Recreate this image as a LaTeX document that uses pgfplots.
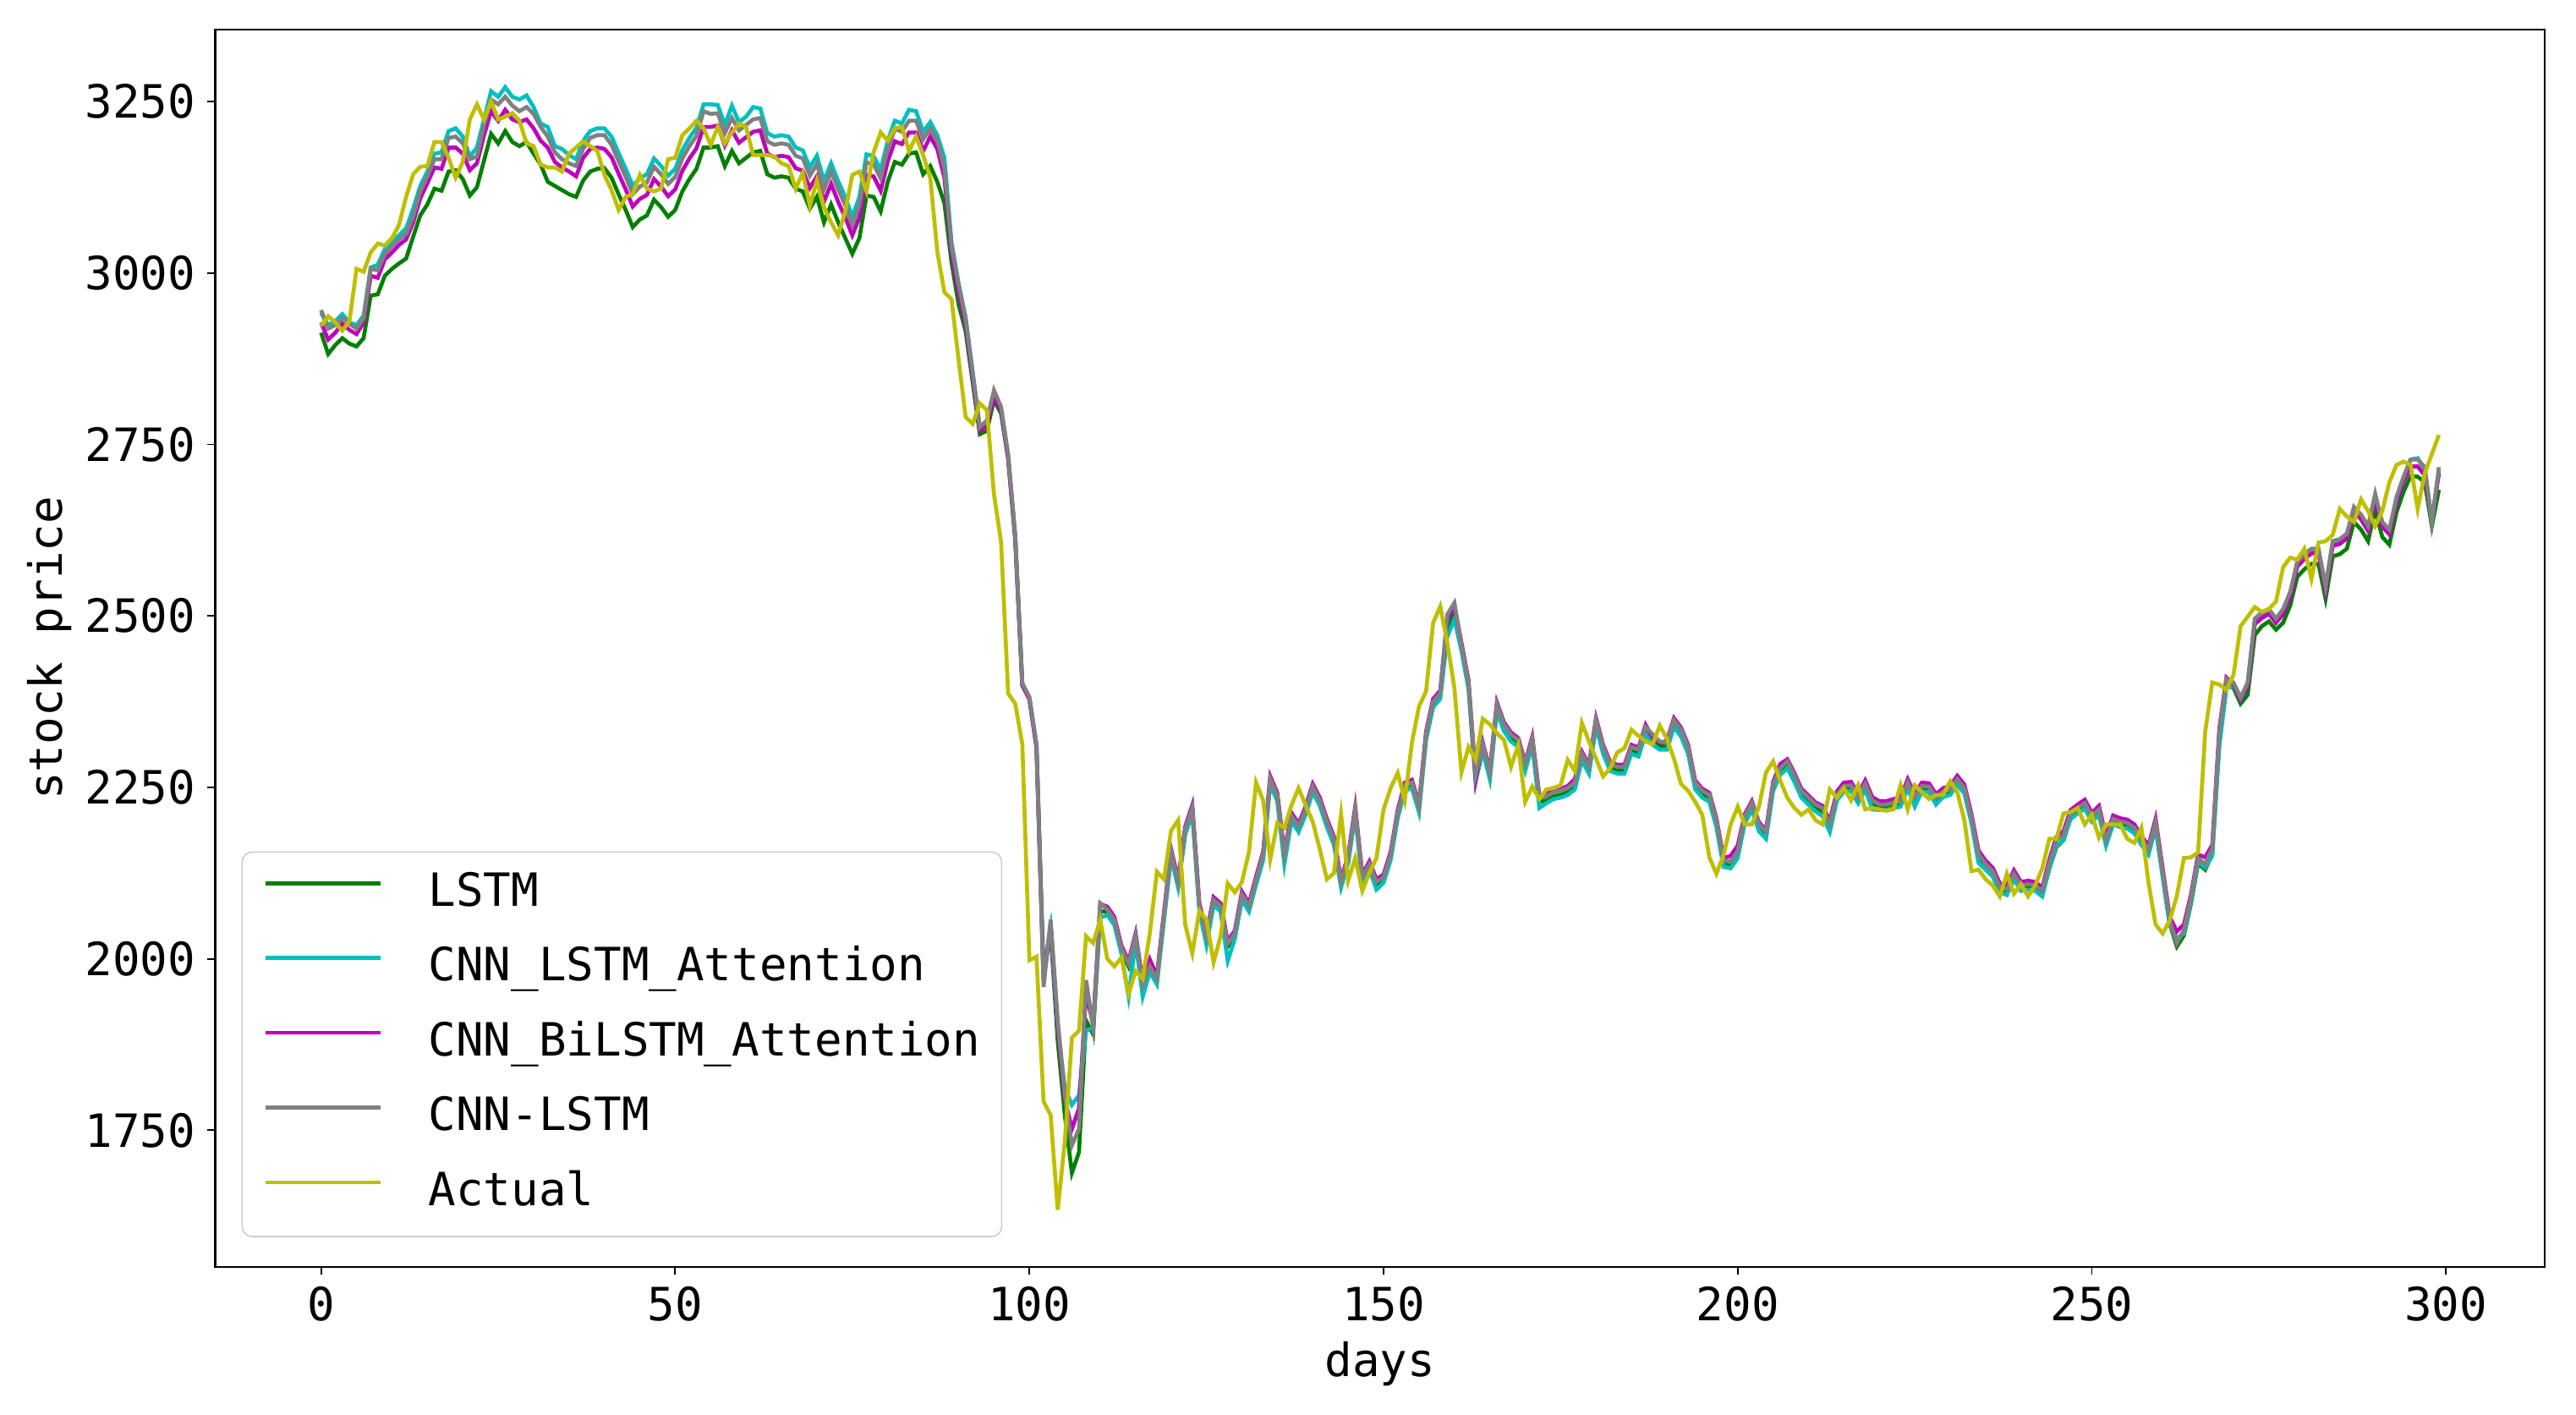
\documentclass[border=0pt]{standalone}
\usepackage{fontspec}
\setmainfont{DejaVu Sans Mono}
\usepackage{pgfplots}
\pgfplotsset{compat=1.18}
\usepackage{pgfplotstable}
\definecolor{mg}{rgb}{0,0.5,0}
\definecolor{mc}{rgb}{0,0.75,0.75}
\definecolor{mm}{rgb}{0.75,0,0.75}
\definecolor{mgr}{rgb}{0.5,0.5,0.5}
\definecolor{my}{rgb}{0.75,0.75,0}
\pgfplotstableread{
d A G C M N
0 2923 2913 2942 2928 2946
1 2937 2882 2924 2903 2919
2 2928 2895 2930 2913 2924
3 2916 2905 2940 2926 2934
4 2930 2897 2928 2917 2926
5 3006 2893 2924 2911 2919
6 3002 2905 2938 2928 2934
7 3030 2967 3008 2996 3006
8 3043 2969 3012 2993 3004
9 3040 2996 3035 3020 3028
10 3051 3006 3045 3030 3039
11 3070 3014 3055 3041 3049
12 3111 3021 3065 3049 3057
13 3144 3053 3094 3074 3082
14 3155 3084 3127 3109 3119
15 3156 3100 3148 3131 3141
16 3191 3123 3174 3154 3166
17 3191 3120 3176 3152 3166
18 3168 3148 3207 3183 3197
19 3139 3150 3211 3183 3199
20 3162 3137 3199 3174 3189
21 3224 3113 3170 3150 3166
22 3246 3125 3183 3160 3170
23 3224 3164 3224 3201 3216
24 3250 3203 3265 3236 3253
25 3224 3189 3257 3222 3246
26 3228 3207 3271 3238 3257
27 3233 3191 3257 3224 3244
28 3222 3185 3253 3220 3236
29 3189 3191 3259 3224 3242
30 3185 3174 3242 3211 3232
31 3158 3158 3218 3193 3213
32 3154 3133 3213 3183 3199
33 3154 3127 3185 3162 3176
34 3148 3121 3181 3154 3166
35 3174 3115 3172 3148 3160
36 3183 3111 3166 3141 3156
37 3192 3135 3193 3168 3181
38 3185 3148 3207 3181 3197
39 3178 3152 3211 3183 3201
40 3143 3153 3211 3181 3201
41 3121 3139 3199 3169 3187
42 3092 3115 3175 3145 3163
43 3111 3092 3152 3122 3140
44 3115 3067 3127 3097 3115
45 3143 3078 3138 3108 3126
46 3123 3084 3144 3114 3132
47 3119 3107 3167 3137 3155
48 3123 3096 3156 3126 3144
49 3166 3082 3142 3112 3130
50 3168 3092 3152 3122 3140
51 3201 3119 3179 3149 3167
52 3211 3137 3197 3167 3185
53 3222 3152 3212 3182 3200
54 3211 3183 3246 3213 3236
55 3187 3183 3246 3213 3232
56 3213 3185 3245 3215 3233
57 3189 3156 3216 3186 3204
58 3205 3178 3244 3208 3226
59 3218 3160 3220 3190 3208
60 3213 3168 3228 3198 3216
61 3172 3176 3242 3206 3224
62 3172 3178 3240 3208 3226
63 3172 3144 3204 3174 3192
64 3170 3139 3199 3169 3187
65 3160 3141 3201 3171 3189
66 3156 3139 3199 3169 3187
67 3123 3123 3183 3153 3171
68 3146 3119 3179 3149 3167
69 3098 3094 3154 3124 3142
70 3135 3111 3171 3141 3159
71 3096 3074 3134 3104 3122
72 3074 3100 3160 3130 3148
73 3055 3074 3134 3104 3122
74 3090 3051 3111 3081 3099
75 3143 3028 3082 3055 3070
76 3148 3051 3111 3081 3099
77 3119 3113 3173 3143 3161
78 3176 3111 3171 3141 3159
79 3205 3090 3150 3120 3138
80 3193 3133 3193 3163 3181
81 3211 3162 3222 3192 3210
82 3213 3158 3218 3188 3206
83 3178 3174 3238 3205 3222
84 3199 3176 3236 3205 3222
85 3172 3144 3206 3178 3195
86 3139 3156 3220 3199 3211
87 3031 3133 3201 3181 3193
88 2972 3102 3168 3139 3152
89 2962 3016 3045 3030 3040
90 2874 2954 2985 2971 2983
91 2790 2915 2935 2925 2933
92 2780 2840 2855 2848 2854
93 2810 2765 2775 2770 2775
94 2800 2770 2785 2778 2785
95 2677 2815 2825 2820 2829
96 2608 2795 2800 2800 2805
97 2387 2730 2732 2730 2736
98 2372 2612 2615 2612 2618
99 2313 2398 2400 2400 2402
100 1998 2380 2380 2378 2382
101 2003 2310 2312 2308 2313
102 1792 1975 1980 1970 1959
103 1772 2040 2045 2050 2057
104 1634 1880 1900 1900 1910
105 1733 1772 1812 1795 1802
106 1885 1688 1787 1752 1728
107 1895 1718 1801 1782 1752
108 2033 1910 1895 1949 1969
109 2023 1890 1900 1905 1900
110 2057 2070 2060 2080 2081
111 2000 2068 2064 2076 2072
112 1989 2053 2049 2061 2057
113 2002 2011 2007 2019 2015
114 1949 1989 1945 1997 1993
115 1982 2029 2025 2037 2033
116 1971 1958 1945 1966 1962
117 2037 1985 1981 1999 1989
118 2127 1967 1963 1975 1971
119 2116 2060 2056 2068 2064
120 2187 2152 2148 2160 2156
121 2202 2108 2104 2116 2112
122 2050 2185 2181 2193 2189
123 2008 2216 2212 2224 2220
124 2070 2073 2069 2081 2077
125 2057 2029 2020 2037 2033
126 1995 2082 2078 2090 2086
127 2033 2073 2069 2081 2077
128 2110 2018 1997 2026 2022
129 2097 2033 2029 2041 2037
130 2112 2090 2086 2098 2094
131 2156 2073 2069 2081 2077
132 2257 2112 2108 2120 2116
133 2231 2148 2144 2156 2152
134 2145 2258 2254 2266 2262
135 2198 2234 2230 2242 2238
136 2191 2148 2138 2156 2152
137 2224 2205 2201 2213 2209
138 2249 2189 2185 2197 2193
139 2224 2214 2210 2222 2218
140 2200 2247 2243 2255 2251
141 2160 2227 2223 2235 2231
142 2116 2196 2192 2204 2200
143 2125 2170 2166 2178 2174
144 2211 2108 2104 2116 2112
145 2114 2143 2139 2151 2147
146 2147 2214 2210 2222 2218
147 2099 2115 2111 2123 2119
148 2125 2134 2130 2142 2138
149 2147 2108 2101 2116 2112
150 2218 2115 2111 2123 2119
151 2249 2148 2144 2156 2152
152 2271 2209 2205 2217 2213
153 2231 2249 2245 2257 2253
154 2315 2253 2249 2261 2257
155 2368 2218 2214 2226 2222
156 2390 2323 2319 2331 2327
157 2490 2371 2367 2379 2375
158 2514 2383 2379 2391 2387
159 2461 2480 2470 2495 2502
160 2395 2505 2495 2515 2519
161 2272 2453 2449 2461 2457
162 2309 2397 2393 2406 2403
163 2290 2262 2258 2261 2268
164 2350 2307 2303 2316 2313
165 2342 2266 2262 2275 2272
166 2329 2365 2361 2374 2371
167 2319 2336 2332 2345 2342
168 2280 2321 2317 2330 2327
169 2311 2313 2309 2322 2319
170 2229 2278 2274 2287 2284
171 2251 2315 2311 2324 2321
172 2233 2229 2220 2238 2235
173 2247 2231 2227 2240 2237
174 2249 2237 2233 2246 2243
175 2253 2239 2235 2248 2245
176 2290 2243 2239 2252 2249
177 2274 2251 2247 2262 2257
178 2344 2293 2289 2302 2299
179 2317 2274 2270 2283 2280
180 2292 2342 2338 2351 2348
181 2266 2303 2299 2312 2309
182 2278 2278 2274 2287 2284
183 2301 2274 2270 2283 2280
184 2307 2274 2270 2283 2280
185 2334 2303 2299 2312 2309
186 2325 2299 2295 2308 2305
187 2317 2332 2328 2341 2338
188 2313 2321 2312 2322 2327
189 2340 2311 2305 2315 2317
190 2321 2309 2305 2318 2315
191 2292 2342 2338 2351 2348
192 2255 2328 2324 2337 2334
193 2245 2303 2299 2312 2309
194 2229 2251 2247 2260 2257
195 2210 2239 2235 2248 2245
196 2148 2233 2229 2242 2239
197 2124 2196 2192 2205 2202
198 2151 2138 2134 2147 2144
199 2196 2136 2132 2150 2142
200 2222 2151 2147 2165 2157
201 2196 2202 2198 2211 2208
202 2196 2221 2217 2230 2227
203 2222 2190 2186 2199 2196
204 2272 2179 2175 2188 2185
205 2288 2249 2245 2258 2255
206 2260 2272 2268 2284 2278
207 2235 2282 2278 2291 2288
208 2220 2262 2258 2271 2268
209 2210 2239 2235 2248 2245
210 2218 2229 2225 2238 2235
211 2202 2219 2215 2228 2225
212 2196 2214 2208 2223 2220
213 2247 2191 2185 2201 2196
214 2235 2234 2231 2244 2239
215 2249 2247 2244 2257 2252
216 2231 2248 2245 2258 2253
217 2253 2230 2227 2240 2235
218 2218 2250 2247 2260 2255
219 2220 2226 2218 2236 2231
220 2218 2220 2217 2230 2225
221 2216 2220 2217 2230 2225
222 2218 2223 2220 2233 2228
223 2253 2225 2222 2235 2230
224 2218 2252 2249 2262 2257
225 2253 2230 2222 2240 2235
226 2243 2247 2244 2257 2252
227 2233 2246 2243 2256 2251
228 2239 2230 2225 2240 2235
229 2239 2239 2236 2249 2244
230 2259 2242 2239 2252 2247
231 2243 2257 2254 2267 2262
232 2202 2244 2241 2254 2249
233 2128 2201 2198 2211 2206
234 2130 2148 2140 2158 2153
235 2116 2133 2130 2143 2138
236 2107 2123 2120 2133 2128
237 2091 2100 2097 2110 2105
238 2124 2096 2093 2106 2101
239 2095 2119 2116 2129 2124
240 2109 2102 2099 2112 2107
241 2091 2104 2101 2114 2109
242 2107 2102 2099 2112 2107
243 2132 2094 2091 2104 2099
244 2175 2132 2132 2145 2140
245 2175 2163 2165 2178 2173
246 2212 2173 2173 2186 2181
247 2214 2207 2204 2217 2212
248 2220 2215 2212 2225 2220
249 2196 2222 2219 2232 2227
250 2210 2203 2200 2213 2208
251 2177 2213 2210 2223 2218
252 2196 2168 2165 2178 2173
253 2196 2199 2196 2209 2204
254 2196 2195 2192 2205 2200
255 2175 2193 2190 2203 2198
256 2169 2186 2183 2196 2191
257 2191 2169 2166 2179 2174
258 2111 2155 2152 2165 2160
259 2050 2194 2191 2204 2199
260 2037 2122 2119 2132 2127
261 2056 2051 2048 2061 2056
262 2092 2018 2030 2040 2023
263 2147 2034 2037 2050 2042
264 2148 2081 2084 2094 2089
265 2155 2139 2142 2152 2147
266 2331 2130 2133 2148 2138
267 2403 2153 2150 2166 2161
268 2400 2323 2310 2336 2331
269 2392 2400 2395 2410 2408
270 2414 2395 2398 2400 2403
271 2485 2372 2378 2378 2381
272 2499 2385 2400 2398 2403
273 2513 2472 2490 2488 2496
274 2506 2485 2500 2497 2505
275 2510 2492 2507 2503 2510
276 2521 2480 2493 2490 2496
277 2571 2490 2507 2503 2510
278 2585 2515 2532 2528 2535
279 2582 2557 2576 2572 2579
280 2598 2568 2587 2583 2590
281 2554 2576 2595 2591 2598
282 2607 2576 2595 2592 2598
283 2609 2525 2540 2537 2543
284 2618 2587 2606 2602 2609
285 2656 2590 2609 2605 2612
286 2645 2598 2617 2613 2620
287 2637 2637 2656 2652 2659
288 2670 2626 2645 2641 2648
289 2653 2609 2628 2624 2631
290 2631 2656 2675 2671 2678
291 2653 2615 2634 2630 2637
292 2695 2604 2623 2619 2626
293 2720 2651 2670 2666 2673
294 2725 2681 2700 2696 2703
295 2720 2704 2728 2718 2728
296 2656 2703 2730 2718 2728
297 2708 2695 2714 2705 2717
298 2736 2631 2637 2640 2637
299 2764 2684 2712 2708 2717
}\data
\begin{document}
\begin{tikzpicture}
\useasboundingbox (-65.5bp,-45bp) rectangle (718.5bp,385.5bp);
\begin{axis}[
  scale only axis, width=709bp, height=376.5bp,
  xmin=-14.95, xmax=313.95, ymin=1551, ymax=3355,
  xtick={0,50,...,300}, ytick={1750,2000,...,3250},
  xtick pos=left, ytick pos=left,
  tick align=outside, major tick length=2.5bp,
  tick style={black, line width=0.5bp},
  axis line style={line width=0.6bp},
  ticklabel style={font=\fontsize{14}{16}\selectfont},
  /pgf/number format/assume math mode=true,
  /pgf/number format/1000 sep={},
  xlabel={days}, ylabel={stock price},
  label style={font=\fontsize{14}{16}\selectfont},
  xlabel style={at={(axis description cs:0.5,-0.0784)}, anchor=center},
  ylabel style={at={(axis description cs:-0.0712,0.5)}, anchor=center},
  legend style={at={(axis description cs:0.0113,0.0239)}, anchor=south west,
    draw={rgb,255:red,204;green,204;blue,204}, rounded corners=3bp, fill=white,
    inner sep=6.5bp, row sep=9.75bp, font=\fontsize{14}{16}\selectfont,
    nodes={inner sep=0pt, text height=10bp, text depth=3bp},
    /tikz/every odd column/.append style={column sep=14bp}},
  legend cell align=left,
  legend image code/.code={\draw[#1] (0bp,3.5bp) -- (35bp,3.5bp);},
  every axis plot/.append style={line width=1.2bp},
]
\addplot[mg] table[x=d,y=G]{\data};
\addlegendentry{LSTM}
\addplot[mc] table[x=d,y=C]{\data};
\addlegendentry{CNN\_LSTM\_Attention}
\addplot[mm] table[x=d,y=M]{\data};
\addlegendentry{CNN\_BiLSTM\_Attention}
\addplot[mgr] table[x=d,y=N]{\data};
\addlegendentry{CNN-LSTM}
\addplot[my] table[x=d,y=A]{\data};
\addlegendentry{Actual}
\end{axis}
\end{tikzpicture}
\end{document}
